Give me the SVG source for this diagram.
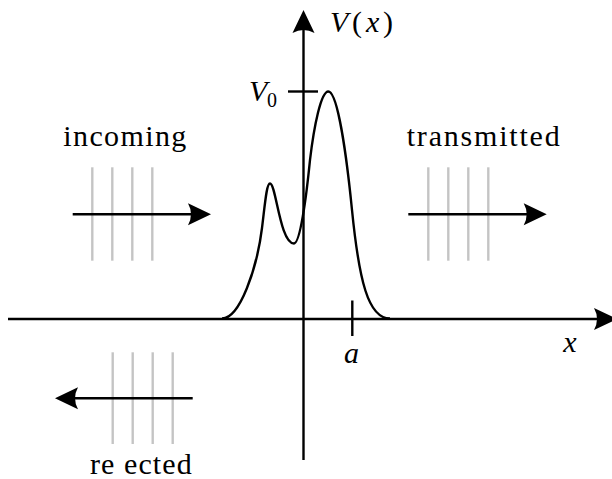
<svg xmlns="http://www.w3.org/2000/svg" width="612" height="479" viewBox="0 0 612 479">
<style>
.ax{stroke:#000;stroke-width:2.4;fill:none}
.wave{stroke:#c4c4c4;stroke-width:2.4;fill:none}
.math{font-style:italic}
</style>
<defs>
<marker id="arr" viewBox="-25 -15 30 30" markerWidth="30" markerHeight="30" refX="-8" refY="0" orient="auto" markerUnits="userSpaceOnUse">
<path d="M0,0 L-23,-11 Q-17,0 -23,11 Z" fill="#000"/>
</marker>
</defs>
<g id="waves">
<g id="incoming-wave">
<line class="wave" x1="92.3" y1="167.3" x2="92.3" y2="260.7"/>
<line class="wave" x1="112.3" y1="167.3" x2="112.3" y2="260.7"/>
<line class="wave" x1="132.3" y1="167.3" x2="132.3" y2="260.7"/>
<line class="wave" x1="152.3" y1="167.3" x2="152.3" y2="260.7"/>
</g>
<g id="transmitted-wave">
<line class="wave" x1="428.3" y1="167.3" x2="428.3" y2="260.7"/>
<line class="wave" x1="448.3" y1="167.3" x2="448.3" y2="260.7"/>
<line class="wave" x1="468.3" y1="167.3" x2="468.3" y2="260.7"/>
<line class="wave" x1="488.3" y1="167.3" x2="488.3" y2="260.7"/>
</g>
<g id="reflected-wave">
<line class="wave" x1="112.7" y1="352.3" x2="112.7" y2="444"/>
<line class="wave" x1="132.7" y1="352.3" x2="132.7" y2="444"/>
<line class="wave" x1="152.7" y1="352.3" x2="152.7" y2="444"/>
<line class="wave" x1="172.7" y1="352.3" x2="172.7" y2="444"/>
</g>
</g>
<g id="connectors">
<line class="ax" x1="303.5" y1="460" x2="303.5" y2="18" marker-end="url(#arr)"/>
<line class="ax" x1="8" y1="319" x2="609" y2="319" marker-end="url(#arr)"/>
<line class="ax" x1="72.7" y1="214.3" x2="203" y2="214.3" marker-end="url(#arr)"/>
<line class="ax" x1="408.3" y1="214.3" x2="538.7" y2="214.3" marker-end="url(#arr)"/>
<line class="ax" x1="192.7" y1="398.3" x2="63" y2="398.3" marker-end="url(#arr)"/>
</g>
<g id="ticks">
<line class="ax" x1="288" y1="91.5" x2="318" y2="91.5"/>
<line class="ax" x1="352.3" y1="300.5" x2="352.3" y2="336"/>
</g>
<g id="potential">
<path class="ax" d="M222,318.5 C240,318.5 257,268 262,228 C265,204 266.5,183.5 270,183.5 C276,183.5 280,243.5 294,243.5 C300,243.5 306,200 310,160 C314,126 321,91.5 328.3,91.5 C338,91.5 347,160 352,210 C359,280 368,318.5 390,318.5"/>
</g>
<g id="labels" font-family="Liberation Serif, serif" font-size="30" fill="#000">
<text x="63.3" y="146" textLength="123" lengthAdjust="spacing">incoming</text>
<text x="406.7" y="146" textLength="153" lengthAdjust="spacing">transmitted</text>
<text x="90" y="474" textLength="101.7" lengthAdjust="spacing">re ected</text>
<text x="330" y="32" textLength="63" lengthAdjust="spacing"><tspan class="math">V</tspan>(<tspan class="math">x</tspan>)</text>
<text class="math" x="249" y="100.5">V</text>
<text x="267" y="106.5" font-size="20">0</text>
<text class="math" x="344" y="363">a</text>
<text class="math" x="563.3" y="351.7">x</text>
</g>
</svg>
